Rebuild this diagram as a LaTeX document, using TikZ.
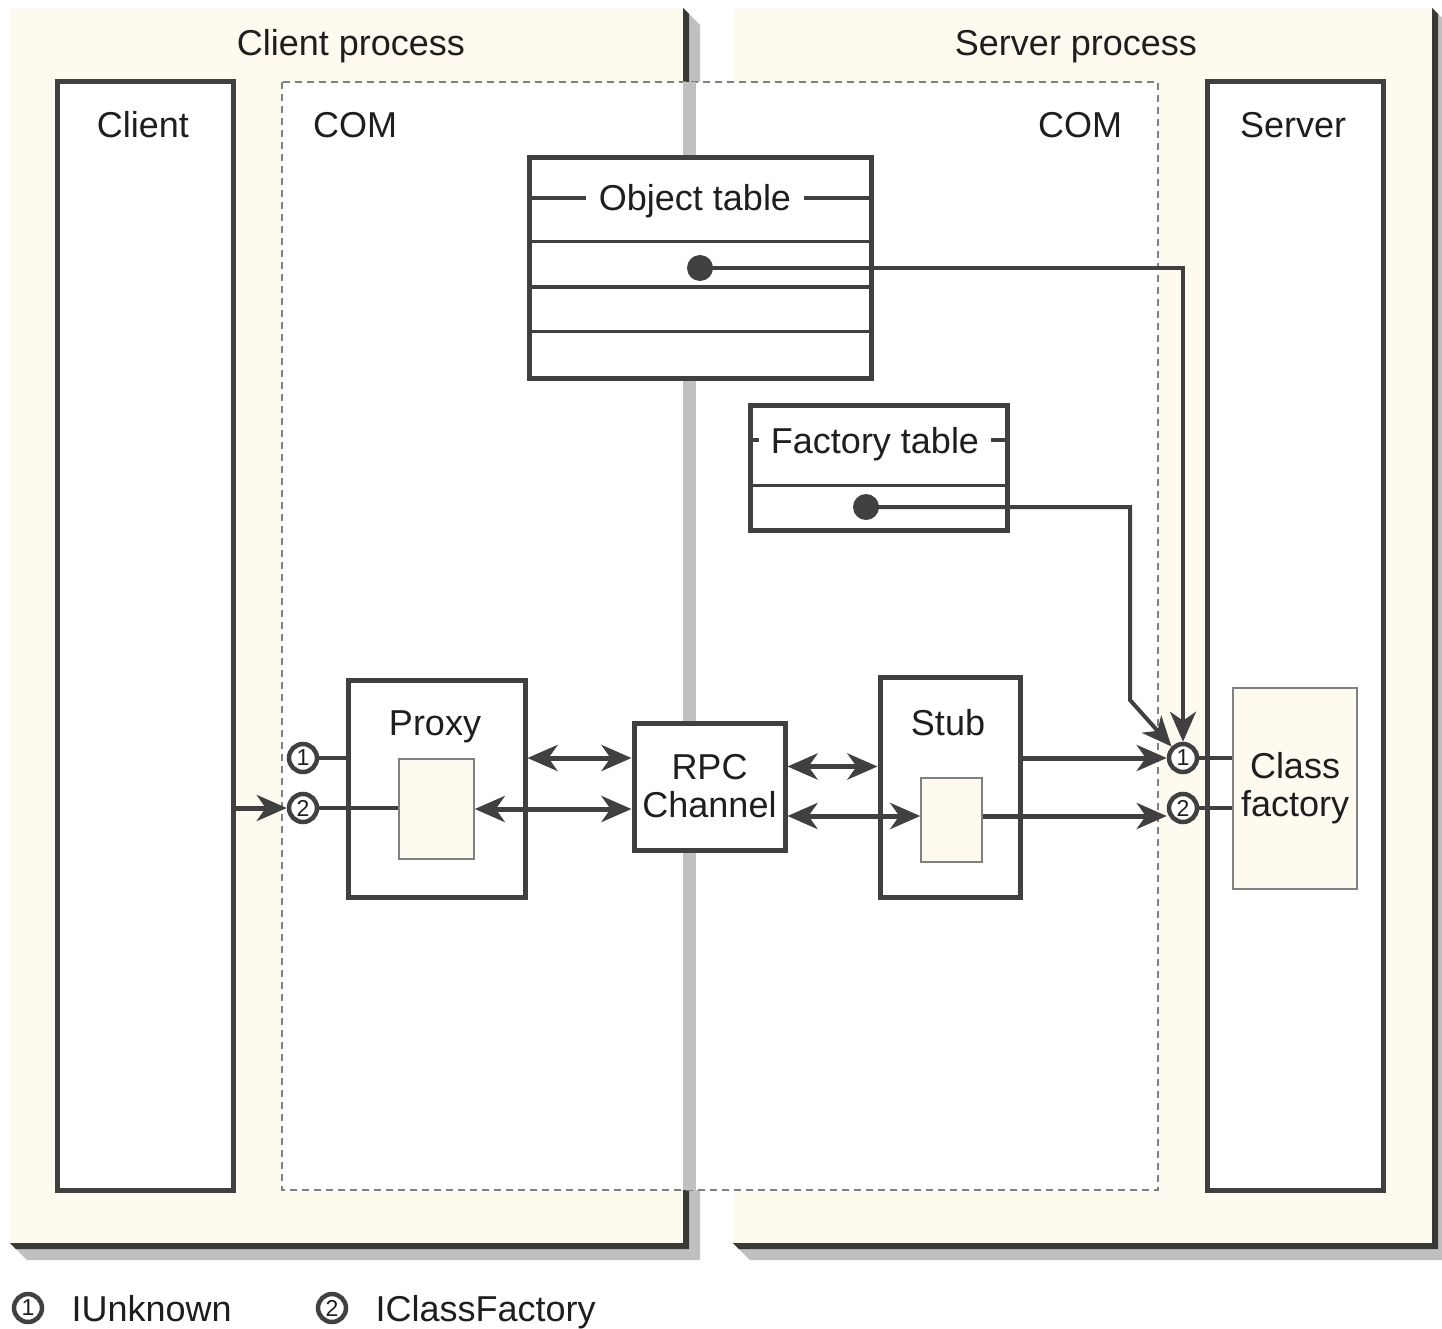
\documentclass[tikz,border=0pt]{standalone}
\usepackage{fontspec}
\setmainfont{Liberation Sans}
\usepackage{tikz}
\usetikzlibrary{arrows.meta,positioning,calc}
\definecolor{panelcream}{RGB}{254,250,239}
\definecolor{inkgray}{RGB}{64,64,64}
\definecolor{shadowgray}{RGB}{192,192,192}
\definecolor{shadowdark}{RGB}{58,58,52}
\definecolor{textblack}{RGB}{30,30,30}

\begin{document}
\begin{tikzpicture}[x=1pt,y=-1pt,
    every node/.style={text=textblack,font=\fontsize{36}{38}\selectfont},
    box/.style={draw=inkgray,line width=5pt,fill=white,inner sep=0pt},
    inbox/.style={draw=gray,line width=1.5pt,fill=panelcream,inner sep=0pt},
    ifc/.style={circle,draw=inkgray,line width=4.5pt,fill=white,minimum size=28pt,inner sep=0pt,font=\fontsize{23}{23}\selectfont},
    dot/.style={circle,fill=inkgray,minimum size=26pt,inner sep=0pt},
    link/.style={draw=inkgray,line width=4pt},
    arr/.style={draw=inkgray,line width=5pt,-{Stealth[length=30pt,width=26pt,inset=9pt]}},
    darr/.style={arr,{Stealth[length=30pt,width=26pt,inset=9pt]}-{Stealth[length=30pt,width=26pt,inset=9pt]}},
  ]
    \useasboundingbox (0,0) rectangle (1442,1329);
    % process panels with drop shadow (client left, server right)
    \foreach \xa/\xb in {10/683,733/1432} {
      \fill[shadowgray] (\xb,8) -- (\xb+17,25) -- (\xb+17,1260) -- (\xa+17,1260) -- (\xa,1243) -- cycle;
      \fill[shadowdark] (\xb,8) -- (\xb+6,14) -- (\xb+6,1249) -- (\xa+6,1249) -- (\xa,1243) -- cycle;
      \fill[panelcream] (\xa,8) rectangle (\xb,1243);
    }
    \node[anchor=base] (clientproc) at (351,56) {Client process};
    \node[anchor=base] (serverproc) at (1076,56) {Server process};
    % COM area spanning both processes
    \filldraw[fill=white,draw=gray,line width=1.5pt,dash pattern=on 7pt off 5pt] (282,82) rectangle (1158,1190);
    \fill[shadowgray] (683,82) rectangle (696,1190);
    \node[anchor=base] (comleft) at (355,138) {COM};
    \node[anchor=base] (comright) at (1080,138) {COM};

    % client and server columns
    \node[box,minimum width=176pt,minimum height=1108pt] (client) at (145,636) {};
    \node[anchor=base] (clientlbl) at (143,138) {Client};
    \node[box,minimum width=176pt,minimum height=1108pt] (server) at (1295,636) {};
    \node[anchor=base] (serverlbl) at (1293,138) {Server};

    % object table
    \node[box,minimum width=342pt,minimum height=220pt] (objtab) at (700,268) {};
    \draw[inkgray,line width=4pt] (529,198) -- (871,198);
    \node[anchor=base,fill=white,inner xsep=13pt] (objtitle) at (695,211) {Object table};
    \foreach \y/\w in {242/3pt,287/4pt,332/3pt}
      \draw[inkgray,line width=\w] (529,\y) -- (871,\y);

    % factory table
    \node[box,minimum width=257pt,minimum height=125pt] (facttab) at (878.5,467.5) {};
    \draw[inkgray,line width=4pt] (750,440) -- (1007,440);
    \node[anchor=base,fill=white,inner xsep=12pt] (facttitle) at (875,453) {Factory table};
    \draw[inkgray,line width=3pt] (750,485) -- (1007,485);

    % proxy, channel and stub
    \node[box,minimum width=177pt,minimum height=217pt] (proxy) at (436.5,788.5) {};
    \node[anchor=base] (proxylbl) at (435,735) {Proxy};
    \node[inbox,minimum width=75pt,minimum height=100pt] (proxyin) at (436.5,809) {};
    \node[box,minimum width=151pt,minimum height=127pt,align=center] (rpc) at (709.5,786.5) {RPC\\Channel};
    \node[box,minimum width=140pt,minimum height=220pt] (stub) at (950,787) {};
    \node[anchor=base] (stublbl) at (948,735) {Stub};
    \node[inbox,minimum width=61pt,minimum height=84pt] (stubin) at (951.5,820) {};
    \node[inbox,minimum width=124pt,minimum height=201pt,align=center] (clsfact) at (1295,788.5) {Class\\factory};

    % interface circles
    \foreach \n/\x/\y/\d in {c1/303/758/1,c2/303/808/2,s1/1183/758/1,s2/1183/808/2}
      \node[ifc] (\n) at (\x,\y) {\d};
    \draw[link] (c1.east) -- (c1 -| proxy.west);
    \draw[link] (c2.east) -- (c2 -| proxyin.west);
    \draw[link] (s1.east) -- (s1 -| clsfact.west);
    \draw[link] (s2.east) -- (s2 -| clsfact.west);

    % calls
    \draw[arr] (c2 -| client.east) -- (c2.west);
    \draw[darr] (proxy.east |- c1) -- (rpc.west |- c1);
    \draw[darr] (proxyin.east) -- (proxyin.east -| rpc.west);
    \draw[darr] ([yshift=20pt]rpc.east) -- ([yshift=20pt]rpc.east -| stub.west);
    \draw[darr] ([yshift=4pt]stubin.west -| rpc.east) -- ([yshift=4pt]stubin.west);
    \draw[arr] (stub.east |- s1) -- (s1.west);
    \draw[arr] ([yshift=4pt]stubin.east) -- ([yshift=4pt]stubin.east -| s2.west);

    % table entries pointing at the class factory
    \node[dot] (otdot) at (700,268) {};
    \node[dot] (ftdot) at (866,507) {};
    \coordinate (ftbend) at (1130,700);
    \draw[arr,line width=4pt] (otdot.center) -| (s1.north);
    \draw[arr,line width=4pt] (ftdot.center) -| (ftbend) -- (s1.north west);

    % key
    \node[ifc] (key1) at (28,1308) {1};
    \node[anchor=base west] (key1txt) at (68,1321) {IUnknown};
    \node[ifc] (key2) at (332,1308) {2};
    \node[anchor=base west] (key2txt) at (372,1321) {IClassFactory};
\end{tikzpicture}
\end{document}
